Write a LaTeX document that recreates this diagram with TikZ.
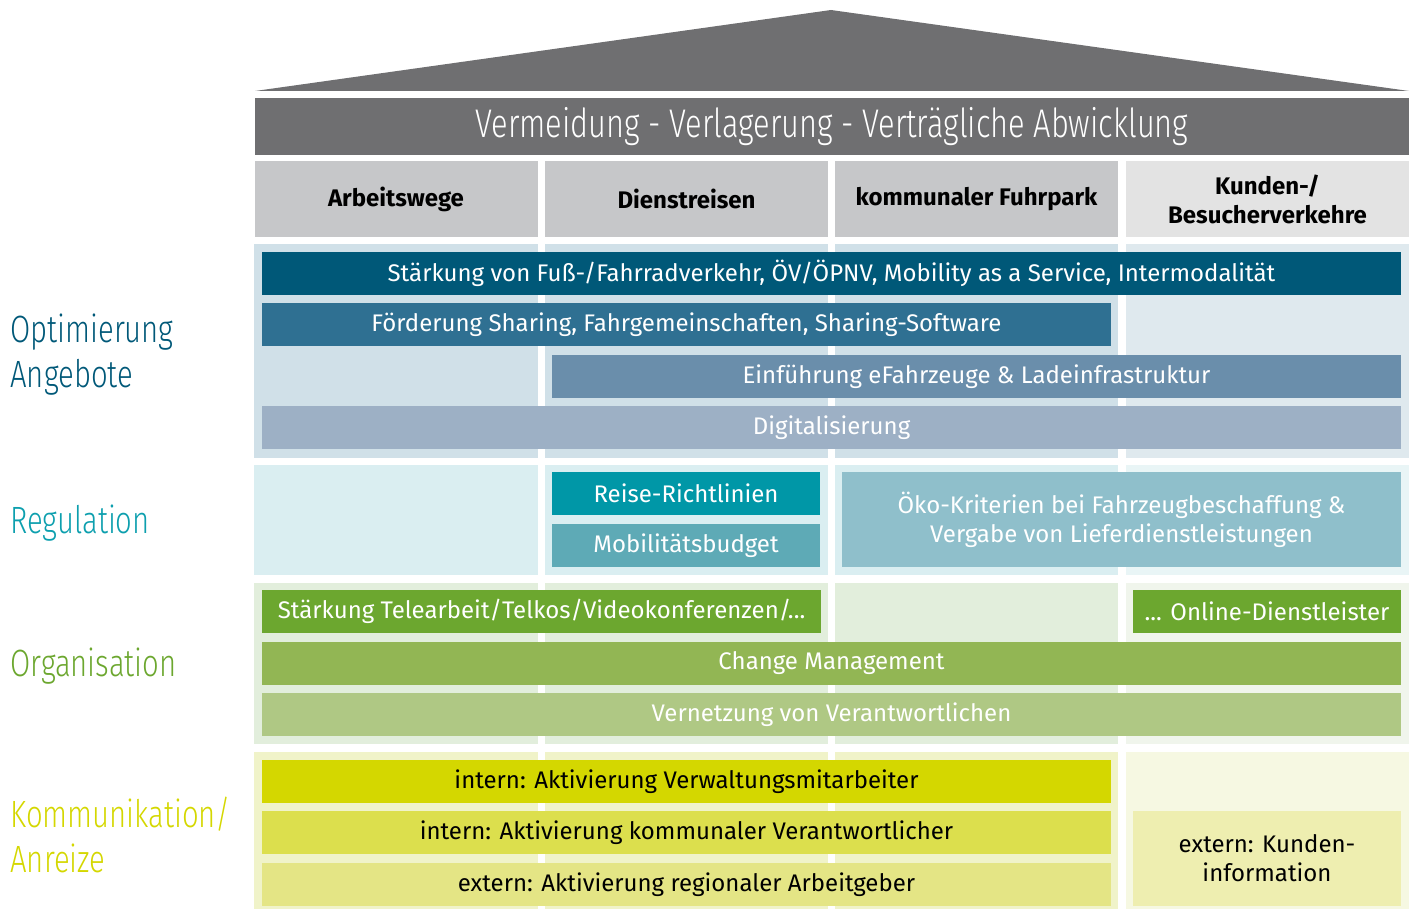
\documentclass[tikz,border=0pt]{standalone}
\usepackage{fontspec}
\IfFontExistsTF{Fira Sans Book}
  {\setmainfont{Fira Sans Book}[BoldFont=Fira Sans Bold]}
  {\setmainfont{Fira Sans}}
\IfFontExistsTF{Fira Sans Light}
  {\newfontfamily\thinfont{Fira Sans Light}[FakeStretch=0.77]}
  {\newfontfamily\thinfont{Fira Sans}[FakeStretch=0.77]}

\definecolor{roofgray}{HTML}{6F6F71}
\definecolor{headgray}{HTML}{C6C7C9}
\definecolor{headlight}{HTML}{E3E3E3}
\definecolor{optbg}{HTML}{D0E0E8}
\definecolor{optbgl}{HTML}{DFE9EE}
\definecolor{regbg}{HTML}{DAEEF1}
\definecolor{regbgl}{HTML}{E9F5F6}
\definecolor{orgbg}{HTML}{E2EEDC}
\definecolor{orgbgl}{HTML}{F0F5EC}
\definecolor{kombg}{HTML}{F0F3C9}
\definecolor{kombgl}{HTML}{F6F8E2}
\definecolor{optA}{HTML}{005878}
\definecolor{optB}{HTML}{2F7092}
\definecolor{optC}{HTML}{6A8EAB}
\definecolor{optD}{HTML}{9DB0C5}
\definecolor{regA}{HTML}{0097A7}
\definecolor{regB}{HTML}{5EAAB6}
\definecolor{regC}{HTML}{8FBFCB}
\definecolor{orgA}{HTML}{6CA72F}
\definecolor{orgB}{HTML}{92B654}
\definecolor{orgC}{HTML}{AFC884}
\definecolor{komA}{HTML}{D4D700}
\definecolor{komB}{HTML}{DCDF4D}
\definecolor{komC}{HTML}{E4E585}
\definecolor{komD}{HTML}{EEEEB0}
\definecolor{regtext}{HTML}{0D9FAE}

\tikzset{
  bar/.style={rectangle, inner sep=0pt, minimum height=21.5pt, text=white,
    align=center, font=\fontsize{12}{14.5}\selectfont},
  darkbar/.style={bar, text=black},
  head/.style={rectangle, inner sep=0pt, minimum width=141.5pt, minimum height=38pt,
    fill=headgray, align=center, font=\bfseries\fontsize{12}{14.5}\selectfont},
  side/.style={anchor=west, inner sep=0pt, align=left,
    font=\thinfont\fontsize{19}{22.5}\selectfont}
}

\begin{document}
\begin{tikzpicture}[x=0.5pt, y=-0.5pt]
        \useasboundingbox (0,0) rectangle (1414,909);

        % roof and title
        \fill[roofgray] (255,91) -- (831,10) -- (1409,91) -- cycle;
        \node[rectangle, inner sep=0pt, minimum width=577pt, minimum height=28.5pt,
          fill=roofgray, text=white, font=\thinfont\fontsize{20}{24}\selectfont]
          (title) at (832,126.5) {Vermeidung - Verlagerung - Verträgliche Abwicklung};

        % column heads
        \node[head] (arbeit) at (396,199) {Arbeitswege};
        \node[head] (dienst) at (686.5,199) {Dienstreisen};
        \node[head] (fuhrpark) at (976.5,199) {kommunaler Fuhrpark};
        \node[head, fill=headlight] (kunden) at (1267.5,199) {Kunden-/\\Besucherverkehre};

        % row backgrounds
        \foreach \xa/\xb in {254/538, 545/828, 835/1118} {
          \fill[optbg] (\xa,244) rectangle (\xb,458);
          \fill[regbg] (\xa,465) rectangle (\xb,575);
          \fill[orgbg] (\xa,583) rectangle (\xb,744);
          \fill[kombg] (\xa,752) rectangle (\xb,909);
        }
        \fill[optbgl] (1126,244) rectangle (1409,458);
        \fill[regbgl] (1126,465) rectangle (1409,575);
        \fill[orgbgl] (1126,583) rectangle (1409,744);
        \fill[kombgl] (1126,752) rectangle (1409,909);

        % side labels
        \node[side, text=optA] (optimierung) at (10,355) {Optimierung\\Angebote};
        \node[side, text=regtext] (regulation) at (10,523) {Regulation};
        \node[side, text=orgA] (organisation) at (10,666) {Organisation};
        \node[side, text=komA] (kommunikation) at (10,835) {Kommunikation/\\Anreize};

        % Optimierung Angebote
        \node[bar, fill=optA, minimum width=569.5pt] (staerkung) at (831.5,273.5)
          {Stärkung von Fuß-/Fahrradverkehr, ÖV/ÖPNV, Mobility as a Service, Intermodalität};
        \node[bar, fill=optB, minimum width=424.5pt] (sharing) at (686.5,324.5)
          {Förderung Sharing, Fahrgemeinschaften, Sharing-Software};
        \node[bar, fill=optC, minimum width=424.5pt] (efahr) at (976.5,376.5)
          {Einführung eFahrzeuge \& Ladeinfrastruktur};
        \node[bar, fill=optD, minimum width=569.5pt] (digital) at (831.5,427.5)
          {Digitalisierung};

        % Regulation
        \node[bar, fill=regA, minimum width=134pt] (reise) at (686,493.5) {Reise-Richtlinien};
        \node[bar, fill=regB, minimum width=134pt] (budget) at (686,545.5) {Mobilitätsbudget};
        \node[bar, fill=regC, minimum width=279.5pt, minimum height=47.5pt] (oeko) at (1121.5,519.5)
          {Öko-Kriterien bei Fahrzeugbeschaffung \&\\Vergabe von Lieferdienstleistungen};

        % Organisation
        \node[bar, fill=orgA, minimum width=279.5pt] (tele) at (541.5,611.5)
          {Stärkung Telearbeit/Telkos/Videokonferenzen/...};
        \node[bar, fill=orgA, minimum width=134pt] (online) at (1267,611.5)
          {... Online-Dienstleister};
        \node[bar, fill=orgB, minimum width=569.5pt] (change) at (831.5,663.5)
          {Change Management};
        \node[bar, fill=orgC, minimum width=569.5pt] (vernetzung) at (831.5,714.5)
          {Vernetzung von Verantwortlichen};

        % Kommunikation/Anreize
        \node[darkbar, fill=komA, minimum width=424.5pt] (mitarbeiter) at (686.5,781.5)
          {intern: Aktivierung Verwaltungsmitarbeiter};
        \node[darkbar, fill=komB, minimum width=424.5pt] (verantw) at (686.5,832.5)
          {intern: Aktivierung kommunaler Verantwortlicher};
        \node[darkbar, fill=komC, minimum width=424.5pt] (arbeitgeber) at (686.5,884.5)
          {extern: Aktivierung regionaler Arbeitgeber};
        \node[darkbar, fill=komD, minimum width=134pt, minimum height=47.5pt] (kundeninfo) at (1267,858.5)
          {extern: Kunden-\\information};
    \end{tikzpicture}
\end{document}
